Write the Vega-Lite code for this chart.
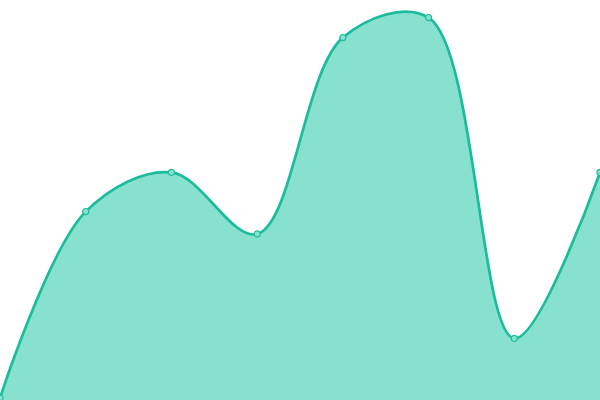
{
  "$schema": "https://vega.github.io/schema/vega-lite/v6.json",
  "width": 600,
  "height": 400,
  "autosize": {"type": "none"},
  "padding": 0,
  "config": {"view": {"stroke": null}},
  "data": {"values": [
    {"i": 0, "v": 0.5},
    {"i": 1, "v": 47.1},
    {"i": 2, "v": 56.9},
    {"i": 3, "v": 41.5},
    {"i": 4, "v": 90.6},
    {"i": 5, "v": 95.6},
    {"i": 6, "v": 15.4},
    {"i": 7, "v": 56.9}
  ]},
  "encoding": {
    "x": {"field": "i", "type": "quantitative", "scale": {"domain": [0, 7], "nice": false, "zero": false}, "axis": null},
    "y": {"field": "v", "type": "quantitative", "scale": {"domain": [0, 100], "nice": false}, "axis": null}
  },
  "layer": [
    {"mark": {"type": "area", "interpolate": "catmull-rom", "color": "#88e0cf", "opacity": 1}},
    {"mark": {"type": "line", "interpolate": "catmull-rom", "color": "#1abc9c", "strokeWidth": 2.7}},
    {"mark": {"type": "point", "filled": true, "fill": "#88e0cf", "stroke": "#1abc9c", "strokeWidth": 1.2, "opacity": 1, "size": 38}}
  ]
}
